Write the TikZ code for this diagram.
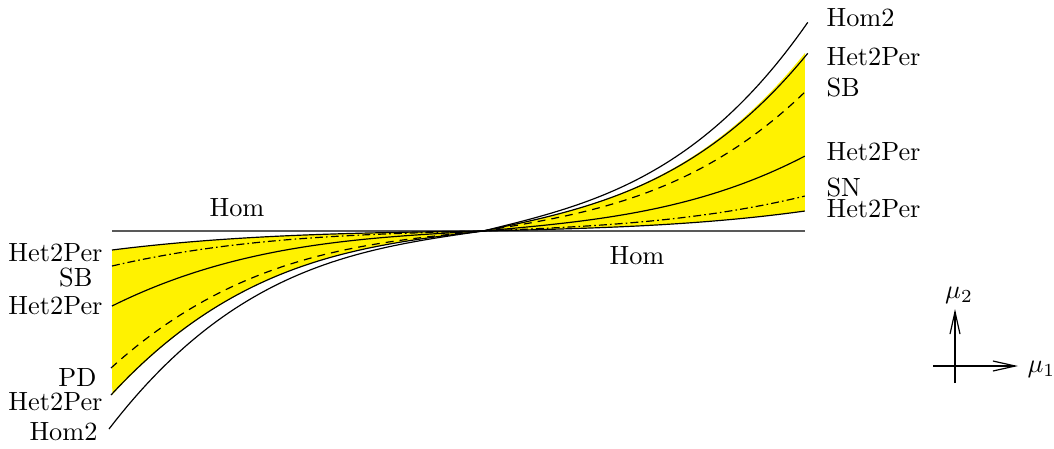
\documentclass[tikz,border=0pt]{standalone}
\usetikzlibrary{arrows.meta}
\begin{document}
\begin{tikzpicture}[x=0.38pt,y=-0.38pt,
  curve/.style={line width=0.45pt,black},
  lbl/.style={inner sep=0pt,font=\fontsize{10}{12}\selectfont},
  axis/.style={line width=0.45pt,-{Straight Barb[length=8.5pt,width=3.8pt]}}]
\useasboundingbox (0,0) rectangle (1054,448);
% yellow region
\fill[yellow]
  plot[domain=1:0,samples=60] ({483-371*\x},{231+19*(0.27*\x+0.73*\x*\x*\x)})
  -- plot[domain=0:1,samples=60] ({483+322*\x},{231-20*(0.38*\x+0.62*\x*\x*\x)})
  -- plot[domain=1:0,samples=60] ({483+322*\x},{231-178*(0.38*\x+0.62*\x*\x*\x)})
  -- plot[domain=0:1,samples=60] ({483-371*\x},{231+164*(0.27*\x+0.73*\x*\x*\x)})
  -- cycle;
% Hom line
\coordinate (homL) at (112,231);
\coordinate (homR) at (805,231);
\draw[line width=0.45pt,black!65] (homL) -- (homR);
% curves
\draw[curve] plot[domain=1:0,samples=60] ({483-371*\x},{231+19*(0.27*\x+0.73*\x*\x*\x)})
  -- plot[domain=0:1,samples=60] ({483+322*\x},{231-20*(0.38*\x+0.62*\x*\x*\x)});
\draw[curve,dash pattern=on 3pt off 1.2pt on 0.6pt off 1.2pt] plot[domain=1:0,samples=60] ({483-371*\x},{231+35*(0.27*\x+0.73*\x*\x*\x)})
  -- plot[domain=0:1,samples=60] ({483+322*\x},{231-35*(0.38*\x+0.62*\x*\x*\x)});
\draw[curve] plot[domain=1:0,samples=60] ({483-371*\x},{231+75*(0.27*\x+0.73*\x*\x*\x)})
  -- plot[domain=0:1,samples=60] ({483+322*\x},{231-75*(0.38*\x+0.62*\x*\x*\x)});
\draw[curve,dash pattern=on 3pt off 2.3pt] plot[domain=1:0,samples=60] ({483-372*\x},{231+137*(0.27*\x+0.73*\x*\x*\x)})
  -- plot[domain=0:1,samples=60] ({483+324*\x},{231-141*(0.38*\x+0.62*\x*\x*\x)});
\draw[curve] plot[domain=1:0,samples=60] ({483-372*\x},{231+164*(0.27*\x+0.73*\x*\x*\x)})
  -- plot[domain=0:1,samples=60] ({483+325*\x},{231-178*(0.38*\x+0.62*\x*\x*\x)});
\draw[curve] plot[domain=1:0,samples=60] ({483-374*\x},{231+198*(0.27*\x+0.73*\x*\x*\x)})
  -- plot[domain=0:1,samples=60] ({483+325*\x},{231-209*(0.38*\x+0.62*\x*\x*\x)});
% right labels
\node[lbl,anchor=west] (r1) at (826,18) {Hom2};
\node[lbl,anchor=west] (r2) at (826,57) {Het2Per};
\node[lbl,anchor=west] (r3) at (826,88) {SB};
\node[lbl,anchor=west] (r4) at (826,152) {Het2Per};
\node[lbl,anchor=west] (r5) at (826,187) {SN};
\node[lbl,anchor=west] (r6) at (826,209) {Het2Per};
% left labels
\node[lbl,anchor=east] (l1) at (103,253) {Het2Per};
\node[lbl,anchor=east] (l2) at (93,278) {SB};
\node[lbl,anchor=east] (l3) at (103,306) {Het2Per};
\node[lbl,anchor=east] (l4) at (97,377) {PD};
\node[lbl,anchor=east] (l5) at (103,402) {Het2Per};
\node[lbl,anchor=east] (l6) at (98,432) {Hom2};
% Hom labels
\node[lbl] (hom1) at (237,208) {Hom};
\node[lbl] (hom2) at (637,256) {Hom};
% axes
\coordinate (xs) at (933,366);
\coordinate (xe) at (1018,366);
\coordinate (ys) at (955,383);
\coordinate (ye) at (955,309);
\draw[axis] (xs) -- (xe);
\draw[axis] (ys) -- (ye);
\node[lbl,anchor=west] (mu1) at (1027,369) {$\mu_1$};
\node[lbl] (mu2) at (959,295) {$\mu_2$};
\end{tikzpicture}
\end{document}
